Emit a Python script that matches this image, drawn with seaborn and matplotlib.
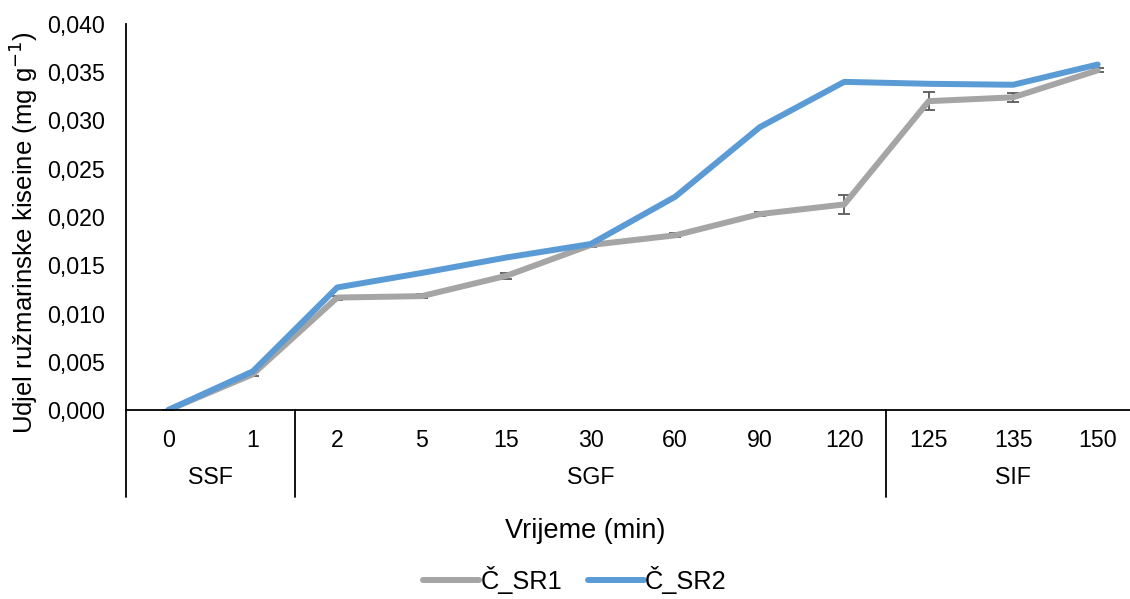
"""
Udjel ruzmarinske kiseline kroz faze simulirane probave.
"""

import matplotlib
matplotlib.use("Agg")
import matplotlib.pyplot as plt
import matplotlib.transforms as mtransforms
from matplotlib.ticker import FuncFormatter, MultipleLocator
from matplotlib.lines import Line2D
import seaborn as sns
import pandas as pd

# data
times = ["0", "1", "2", "5", "15", "30", "60", "90", "120", "125", "135", "150"]
phases = ["SSF", "SGF", "SIF"]
phase_sizes = [2, 7, 3]
sr1 = [0.0, 0.0037, 0.01165, 0.0118, 0.0139, 0.0171, 0.0181, 0.0203, 0.0213, 0.0320, 0.0324, 0.0352]
sr1_err = [0.0, 0.0002, 0.0002, 0.0002, 0.0003, 0.0002, 0.0002, 0.0002, 0.0010, 0.0009, 0.00045, 0.0002]
sr2 = [0.0, 0.0040, 0.0127, 0.0142, 0.0158, 0.0172, 0.0221, 0.0293, 0.0340, 0.0338, 0.0337, 0.0358]
series_names = ["Č_SR1", "Č_SR2"]
colors = ["#A5A5A5", "#5B9BD5"]

sns.set_style("white")
plt.rcParams["font.family"] = ["Liberation Sans", "DejaVu Sans"]
for key in ["text.color", "axes.labelcolor", "xtick.color", "ytick.color"]:
    plt.rcParams[key] = "black"
FS = 16.7

pos = list(range(len(times)))
df = pd.DataFrame({
    "x": pos * 2,
    "y": sr1 + sr2,
    "serija": [series_names[0]] * len(times) + [series_names[1]] * len(times),
})

fig = plt.figure(figsize=(11.3, 5.99), dpi=100)
# the category axis runs slightly past the right edge, as in the original
ax = fig.add_axes([0.1115, 0.3155, 0.8973, 0.6445])

# error bars for first series (drawn under the lines)
ax.errorbar(pos, sr1, yerr=sr1_err, fmt="none", ecolor="#595959",
            elinewidth=1.3, capsize=4.5, capthick=1.3, zorder=1)

sns.lineplot(data=df, x="x", y="y", hue="serija", palette=colors,
             linewidth=4.3, legend=False, ax=ax, zorder=2)

ax.set_xlim(-0.5, len(times) - 0.5)
ax.set_ylim(0, 0.040)
ax.yaxis.set_major_locator(MultipleLocator(0.005))
ax.yaxis.set_major_formatter(FuncFormatter(lambda v, p: f"{v:.3f}".replace(".", ",")))
ax.tick_params(axis="y", length=0, labelsize=FS, pad=15)
ax.set_xticks(pos)
ax.set_xticklabels(times)
ax.tick_params(axis="x", length=0, labelsize=FS, pad=14)
ax.set_xlabel("")
ax.set_ylabel("Udjel ružmarinske kiseine (mg g$^{-1}$)", fontsize=18.5)
ax.yaxis.set_label_coords(-0.085, 0.46)

for side in ["top", "right"]:
    ax.spines[side].set_visible(False)
for side in ["left", "bottom"]:
    ax.spines[side].set_color("black")
    ax.spines[side].set_linewidth(1.3)

# multi-level category axis: separators and phase labels
trans = mtransforms.blended_transform_factory(ax.transData, ax.transAxes)
edges = [-0.5]
for n in phase_sizes:
    edges.append(edges[-1] + n)
for e in edges[:-1]:
    ax.plot([e, e], [0, -0.225], transform=trans, color="black",
            linewidth=1.3, clip_on=False)
for i, name in enumerate(phases):
    mid = (edges[i] + edges[i + 1]) / 2
    ax.text(mid, -0.175, name, transform=trans, ha="center", va="center", fontsize=FS)

fig.text(585 / 1130, 1 - 531 / 599, "Vrijeme (min)", ha="center", va="center", fontsize=19.5)

handles = [Line2D([0], [0], color=c, linewidth=4.3) for c in colors]
fig.legend(handles, series_names, loc="center", bbox_to_anchor=(575 / 1130, 1 - 580 / 599),
           ncol=2, frameon=False, fontsize=18.3, handlelength=2.2,
           handletextpad=0.05, columnspacing=1.0)

plt.savefig("out.png", dpi=100)
